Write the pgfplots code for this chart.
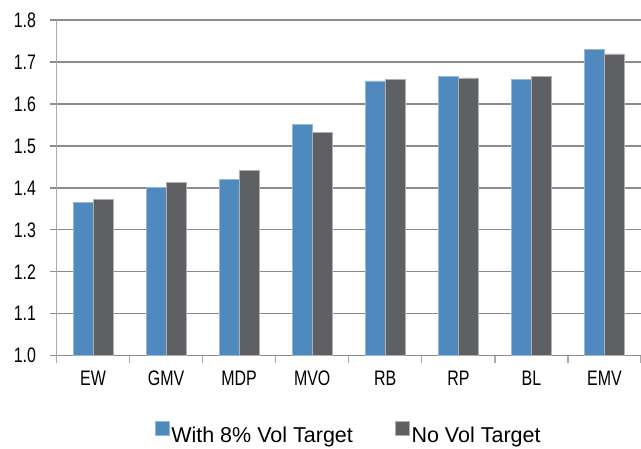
\documentclass[border=0pt]{standalone}
\usepackage{pgfplots}
\pgfplotsset{compat=1.18}
\usepackage{fontspec}
\setmainfont{Liberation Sans}[FakeStretch=0.76]
\newfontfamily\legfont{Liberation Sans}
\definecolor{cblue}{RGB}{79,137,189}
\definecolor{cgray}{RGB}{95,96,100}
\definecolor{gridc}{RGB}{140,140,140}
\definecolor{axc}{RGB}{170,170,170}
\newcommand{\cf}{\fontsize{21pt}{25pt}\selectfont}
\newcommand{\lf}{\legfont\fontsize{21.5pt}{25pt}\selectfont}
\begin{document}
\begin{tikzpicture}
\useasboundingbox (-56.5pt,-92.3pt) rectangle (584.5pt,355.7pt);
\begin{axis}[
  at={(0pt,0pt)}, anchor=south west,
  scale only axis, width=584.5pt, height=335.7pt,
  ybar=0pt, bar width=20pt,
  xmin=-0.5, xmax=7.5, ymin=1, ymax=1.8,
  xtick={0,1,2,3,4,5,6,7},
  xticklabels={EW,GMV,MDP,MVO,RB,RP,BL,EMV},
  ytick={1,1.1,1.2,1.3,1.4,1.5,1.6,1.7,1.8},
  y tick label style={/pgf/number format/fixed, /pgf/number format/fixed zerofill, /pgf/number format/precision=1},
  /pgf/number format/assume math mode=true,
  tick label style={font=\cf},
  xticklabel style={yshift=-6pt},
  yticklabel style={xshift=-11pt},
  axis x line*=bottom, axis y line*=left,
  separate axis lines,
  x axis line style={gridc, line width=1.3pt, -},
  y axis line style={axc, line width=1.3pt, -},
  ymajorgrids, grid style={gridc, line width=1.3pt},
  tick align=outside, major tick length=6pt,
  xtick style={draw=none},
  ytick style={draw=gridc, line width=1.3pt},
  extra x ticks={-0.5,0.5,1.5,2.5,3.5,4.5,5.5,6.5,7.5},
  extra x tick labels={},
  extra x tick style={xtick style={draw=axc, line width=1.3pt}, major tick length=7pt, grid=none},
  legend style={at={(0.1685,-0.268)}, anchor=south west, draw=none, fill=none,
    legend columns=2, inner sep=0pt, font=\lf,
    /tikz/every even column/.append style={column sep=41pt},
    nodes={inner sep=1.5pt}},
  legend image code/.code={\fill[#1] (0pt,0pt) rectangle (14pt,14pt);},
]
\addplot[fill=cblue, draw=cblue!60!white, line width=0.6pt] coordinates {
  (0,1.365) (1,1.402) (2,1.421) (3,1.552) (4,1.655) (5,1.666) (6,1.658) (7,1.730)};
\addplot[fill=cgray, draw=cgray!50!white, line width=0.6pt] coordinates {
  (0,1.373) (1,1.413) (2,1.441) (3,1.532) (4,1.658) (5,1.662) (6,1.666) (7,1.719)};
\legend{With 8\% Vol Target, No Vol Target}
\end{axis}
\end{tikzpicture}
\end{document}
